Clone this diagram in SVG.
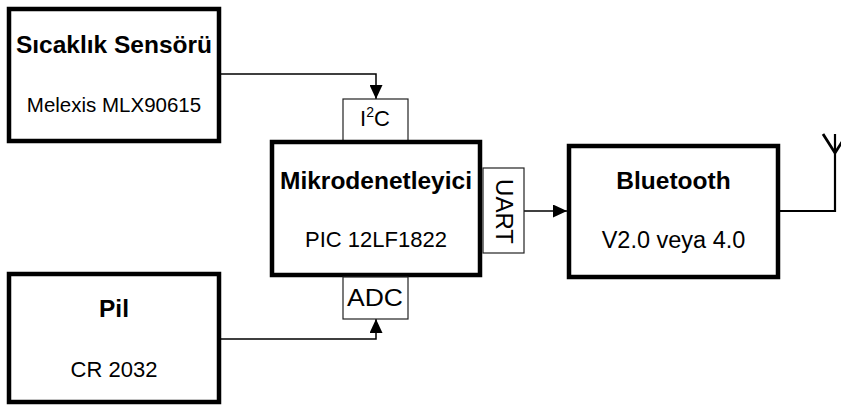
<svg xmlns="http://www.w3.org/2000/svg" width="841" height="405" viewBox="0 0 841 405">
<defs>
<style>
.big{fill:#fff;stroke:#000;stroke-width:4.5}
.port{fill:#fff;stroke:#222;stroke-width:1.2}
.t{font-family:"Liberation Sans",Arial,sans-serif;fill:#000;text-anchor:middle}
.b{font-weight:bold;font-size:24.5px}
.r{font-size:22px}
.wire{fill:none;stroke:#000;stroke-width:1.5}
</style>
<marker id="ah" markerUnits="userSpaceOnUse" markerWidth="14" markerHeight="13" refX="14" refY="6.5" orient="auto">
<path d="M0,0 L14,6.5 L0,13 z" fill="#000"/>
</marker>
</defs>
<rect width="841" height="405" fill="#fff"/>
<g id="connectors">
<path class="wire" d="M221,74 H376 V99" marker-end="url(#ah)"/>
<path class="wire" d="M221,339 H376 V319" marker-end="url(#ah)"/>
<path class="wire" d="M524,211 H567" marker-end="url(#ah)"/>
<path fill="none" stroke="#000" stroke-width="2.2" d="M780,211 H835 V134"/>
<path fill="none" stroke="#000" stroke-width="2.8" d="M823,134 L835,153 L847,134"/>
</g>
<g id="sensor">
<rect class="big" x="9" y="9" width="210" height="132"/>
<text class="t b" x="114" y="53">Sıcaklık Sensörü</text>
<text class="t" x="114" y="112" font-size="20.5px">Melexis MLX90615</text>
</g>
<g id="i2c">
<rect class="port" x="343" y="99" width="65" height="42"/>
<text class="t" x="375" y="126" font-size="22px">I<tspan font-size="14px" dy="-9">2</tspan><tspan dy="9">C</tspan></text>
</g>
<g id="mcu">
<rect class="big" x="272" y="142" width="208" height="133"/>
<text class="t b" x="376" y="189">Mikrodenetleyici</text>
<text class="t r" x="376" y="247">PIC 12LF1822</text>
</g>
<g id="adc">
<rect class="port" x="343" y="277" width="65" height="42"/>
<text class="t" x="375" y="306" font-size="23px" textLength="56" lengthAdjust="spacingAndGlyphs">ADC</text>
</g>
<g id="uart">
<rect class="port" x="483" y="168" width="41" height="85"/>
<text class="t" transform="translate(496,211.5) rotate(90)" font-size="24px">UART</text>
</g>
<g id="bluetooth">
<rect class="big" x="569" y="146" width="209" height="131"/>
<text class="t b" x="673.5" y="189">Bluetooth</text>
<text class="t" x="673.5" y="248" font-size="23.5px">V2.0 veya 4.0</text>
</g>
<g id="pil">
<rect class="big" x="9" y="274" width="210" height="128"/>
<text class="t b" x="114" y="317">Pil</text>
<text class="t r" x="114" y="377">CR 2032</text>
</g>
</svg>
